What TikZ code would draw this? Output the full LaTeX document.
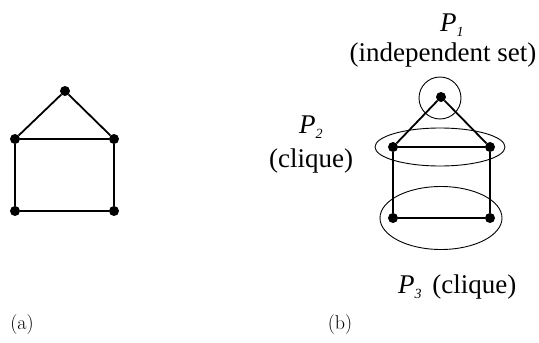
\documentclass[tikz,border=0pt]{standalone}
\usepackage{fontspec}
\usetikzlibrary{shapes.geometric}
\newfontfamily\tms{Liberation Serif}
\newcommand{\Psub}[1]{\textit{P}\raisebox{-5pt}{\fontsize{14}{14}\selectfont\textit{#1}}}
\begin{document}
\begin{tikzpicture}[x=1pt,y=-1pt,
  vtx/.style={circle,fill=black,inner sep=0pt,minimum size=10pt},
  edge/.style={line width=1.8pt},
  grp/.style={line width=0.9pt},
  lbl/.style={font=\tms\fontsize{27}{30}\selectfont,inner sep=0pt},
  subcap/.style={font=\fontsize{20}{22}\selectfont,inner sep=0pt}]
\useasboundingbox (0,0) rectangle (539,343);
% (a)
\node[vtx] (at) at (65,91) {};
\node[vtx] (al) at (15,139) {};
\node[vtx] (ar) at (114,139) {};
\node[vtx] (abl) at (15,211) {};
\node[vtx] (abr) at (114,211) {};
\draw[edge] (at) -- (al) -- (ar) -- (at);
\draw[edge] (al) -- (abl) -- (abr) -- (ar);
% (b)
\node[vtx] (bt) at (441,97) {};
\node[vtx] (bl) at (393,147) {};
\node[vtx] (br) at (490,147) {};
\node[vtx] (bbl) at (393,218) {};
\node[vtx] (bbr) at (490,218) {};
\draw[edge] (bt) -- (bl) -- (br) -- (bt);
\draw[edge] (bl) -- (bbl) -- (bbr) -- (br);
\node[grp,draw,circle,minimum size=42pt,inner sep=0pt] (c1) at (440,98) {};
\node[grp,draw,ellipse,minimum width=130pt,minimum height=38pt,inner sep=0pt] (c2) at (440,147) {};
\node[grp,draw,ellipse,minimum width=122pt,minimum height=63pt,inner sep=0pt] (c3) at (441,218) {};
% labels
\node[lbl,anchor=base west] (p1) at (440,31) {\Psub{1}};
\node[lbl,anchor=base] (p1t) at (443,61) {(independent set)};
\node[lbl,anchor=base west] (p2) at (299,133) {\Psub{2}};
\node[lbl,anchor=base] (p2t) at (311,167) {(clique)};
\node[lbl,anchor=base west] (p3) at (398,293) {\Psub{3}\hspace{0.4em}(clique)};
\node[subcap] (ca) at (22,325) {(a)};
\node[subcap] (cb) at (340,325) {(b)};
\end{tikzpicture}
\end{document}
